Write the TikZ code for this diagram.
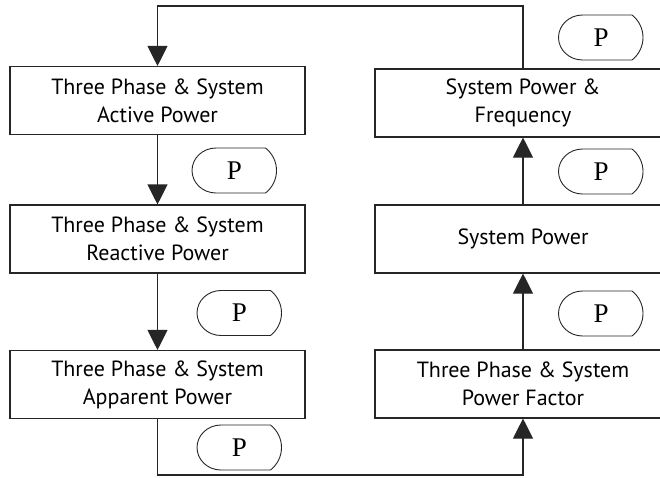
\documentclass[tikz,border=0pt]{standalone}
\usepackage{fontspec}
\setmainfont{PT Sans}
\newfontfamily\pfont{Liberation Serif}
\usetikzlibrary{arrows.meta,calc}
\begin{document}
\begin{tikzpicture}[x=1pt,y=-1pt,
  box/.style={draw=black!85, line width=1.1pt, minimum width=295pt, minimum height=68pt,
    align=center, inner sep=0pt, font=\fontsize{22}{28}\selectfont},
  rbox/.style={box, minimum width=296pt},
  pbox/.style={minimum width=85pt, minimum height=45pt, inner sep=0pt,
    font=\pfont\fontsize{27}{30}\selectfont},
  pline/.style={draw=black!85, line width=0.9pt},
  flow/.style={draw=black!85, line width=1.1pt, -{Triangle[length=20pt,width=20pt]}}
]
\useasboundingbox (0,0) rectangle (660,477);
\clip (0,0) rectangle (660,477);

% left column
\node[box] (l1) at (157.5,100.5) {Three Phase \& System\\Active Power};
\node[box] (l2) at (157.5,239) {Three Phase \& System\\Reactive Power};
\node[box] (l3) at (157.5,384.5) {Three Phase \& System\\Apparent Power};

% right column
\node[rbox] (r1) at (523,103) {System Power \&\\Frequency};
\node[rbox] (r2) at (523,239) {System Power};
\node[rbox] (r3) at (523,384) {Three Phase \& System\\Power Factor};

% P markers
\node[pbox] (pl1) at (234.5,170.5) {P};
\node[pbox] (pl2) at (239.5,313) {P};
\node[pbox] (pl3) at (239.5,447.5) {P};
\node[pbox] (pr1) at (601,37.5) {P};
\node[pbox] (pr2) at (601,171.5) {P};
\node[pbox] (pr3) at (601,313.5) {P};
\foreach \n in {pl1,pl2,pl3,pr1,pr2,pr3}
  \draw[pline, shift={(\n.center)}] (-18.5,-22.5) -- (31,-22.5)
    .. controls (37.92,-17.12) and (42,-8.77) .. (42,0)
    .. controls (42,8.77) and (37.92,17.12) .. (31,22.5)
    -- (-18.5,22.5)
    .. controls (-31.75,22.5) and (-42.5,12.4) .. (-42.5,0)
    .. controls (-42.5,-12.4) and (-31.75,-22.5) .. (-18.5,-22.5) -- cycle;

% connectors
\coordinate (tr) at (523,6);
\coordinate (tl) at (157.5,6);
\coordinate (bl) at (157.5,475);
\coordinate (br) at (523,475);

\draw[flow] (r1.north) -- (tr) -- (tl) -- (l1.north);
\draw[flow] (l1.south) -- (l2.north);
\draw[flow] (l2.south) -- (l3.north);
\draw[flow] (l3.south) -- (bl) -- (br) -- (r3.south);
\draw[flow] (r3.north) -- (r2.south);
\draw[flow] (r2.north) -- (r1.south);
\end{tikzpicture}
\end{document}
